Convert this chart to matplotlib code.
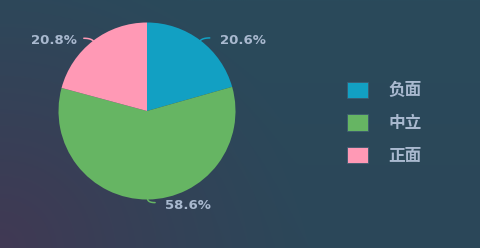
import numpy as np
import matplotlib
matplotlib.use("Agg")
import matplotlib.pyplot as plt
from matplotlib.patches import Rectangle

categories = ["负面", "中立", "正面"]
values = [20.6, 58.6, 20.8]
labels = ["20.6%", "58.6%", "20.8%"]
colors = ["#12a0c3", "#66b563", "#ff99b5"]
text_color = "#a9b9cf"

W, H = 481, 248
fig = plt.figure(figsize=(W / 100, H / 100), dpi=100)

# background gradient
bg = fig.add_axes([0, 0, 1, 1])
bg.set_axis_off()
ny, nx = 124, 240
yy, xx = np.mgrid[0:ny, 0:nx]
xn = xx / (nx - 1)
yn = yy / (ny - 1)  # 0 top, 1 bottom
base_top = np.array([0x2a, 0x4a, 0x5b]) / 255
base_bot = np.array([0x2c, 0x47, 0x59]) / 255
purple = np.array([0x41, 0x39, 0x54]) / 255
base = base_top[None, None, :] * (1 - yn[..., None]) + base_bot[None, None, :] * yn[..., None]
d = np.sqrt((xn * 1.94) ** 2 + ((1 - yn)) ** 2)
t = np.clip(1 - d / 1.25, 0, 1) ** 1.2
img = base * (1 - t[..., None]) + purple[None, None, :] * t[..., None]
bg.imshow(img, extent=[0, 1, 0, 1], aspect="auto", origin="upper")
bg.set_xlim(0, 1)
bg.set_ylim(0, 1)

# pie
cx, cy, r = 147, 111, 88.5
half = 110
ax = fig.add_axes([(cx - half) / W, (H - cy - half) / H, 2 * half / W, 2 * half / H])
ax.set_axis_off()
R = half / r
wedges, _ = ax.pie(values, colors=colors, startangle=90, counterclock=False,
                   radius=1.0, wedgeprops=dict(linewidth=0))
ax.set_xlim(-R, R)
ax.set_ylim(-R, R)
ax.set_aspect("auto")

for w, lab, col in zip(wedges, labels, colors):
    th = np.deg2rad((w.theta1 + w.theta2) / 2)
    c, s = np.cos(th), np.sin(th)
    sign = 1 if c >= 0 else -1
    ts = np.linspace(0, 1, 12)
    p1 = np.array([0.99 * c, 0.99 * s])
    p2 = np.array([1.035 * c, 1.035 * s])
    p3 = p2 + np.array([sign * 0.085, 0])
    # smooth quadratic curve from p1 through corner p2 to p3
    curve = ((1 - ts)[:, None] ** 2) * p1 + (2 * (1 - ts) * ts)[:, None] * p2 + (ts[:, None] ** 2) * p3
    ax.plot(curve[:, 0], curve[:, 1], color=col, lw=1.1,
            solid_capstyle="round", clip_on=False)
    gap = 0.115 if sign > 0 else 0.075
    ax.text(p3[0] + sign * gap, p3[1] - 0.03, lab, ha="left" if sign > 0 else "right",
            va="center", fontsize=9.5, fontweight="bold", color=text_color,
            family="DejaVu Sans")

# legend
for i, (cat, col) in enumerate(zip(categories, colors)):
    ytop = 82 + i * 32.5
    fig.patches.append(Rectangle((347 / W, 1 - (ytop + 16) / H), 21 / W, 16 / H,
                                 transform=fig.transFigure, facecolor=col,
                                 edgecolor="#3d5a70", linewidth=0.6))
    fig.text(388 / W, 1 - (ytop + 8.5) / H, cat, ha="left", va="center",
             fontsize=12, fontweight="bold", color=text_color,
             family=["Noto Sans CJK SC", "DejaVu Sans"])

fig.savefig("out.png", dpi=100)
